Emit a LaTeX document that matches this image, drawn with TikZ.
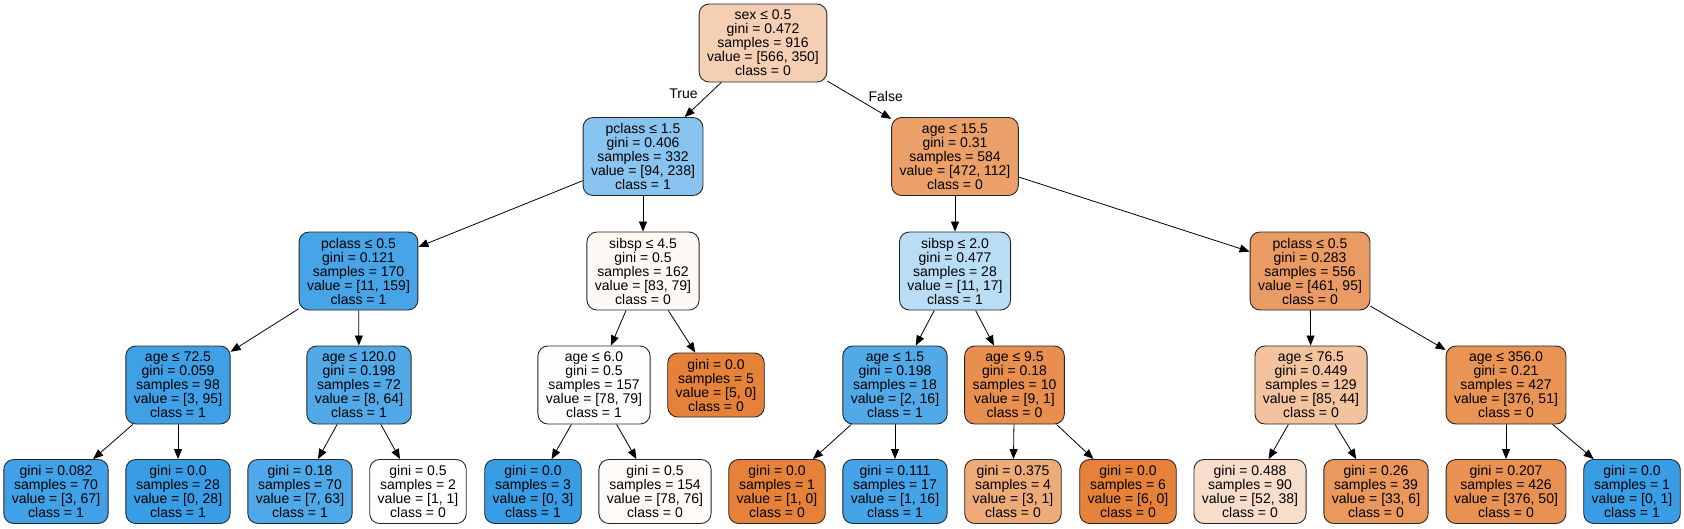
\documentclass[tikz,border=0pt]{standalone}
\usepackage{fontspec}
\setmainfont{Liberation Sans}
\usetikzlibrary{arrows.meta}
\definecolor{zeroc}{HTML}{E58139}
\definecolor{onec}{HTML}{399DE5}
\tikzset{
  box/.style={draw=black!85, line width=0.9pt, rounded corners=10pt, align=center,
    inner xsep=8pt, inner ysep=0pt, font=\fontsize{14}{14}\selectfont},
  split/.style={box, minimum height=78pt},
  leaf/.style={box, minimum height=64pt},
  edge/.style={-{Triangle[length=10pt,width=8pt]}, line width=0.8pt},
  lbl/.style={font=\fontsize{14}{14}\selectfont, inner sep=0pt}
}
\begin{document}
\begin{tikzpicture}[x=1pt, y=-1pt]
        \useasboundingbox (0,0) rectangle (1684,528);

        % Wurzel und erste Ebene
        \node[split, fill=zeroc!38] (root) at (763,43) {sex ≤ 0.5\\gini = 0.472\\samples = 916\\value = [566, 350]\\class = 0};
        \node[split, fill=onec!60] (l) at (643,156.5) {pclass ≤ 1.5\\gini = 0.406\\samples = 332\\value = [94, 238]\\class = 1};
        \node[split, fill=zeroc!76] (r) at (955,156.5) {age ≤ 15.5\\gini = 0.31\\samples = 584\\value = [472, 112]\\class = 0};

        % zweite Ebene
        \node[split, fill=onec!93] (ll) at (358.5,271) {pclass ≤ 0.5\\gini = 0.121\\samples = 170\\value = [11, 159]\\class = 1};
        \node[split, fill=zeroc!5] (lr) at (643,271) {sibsp ≤ 4.5\\gini = 0.5\\samples = 162\\value = [83, 79]\\class = 0};
        \node[split, fill=onec!35] (rl) at (955,271) {sibsp ≤ 2.0\\gini = 0.477\\samples = 28\\value = [11, 17]\\class = 1};
        \node[split, fill=zeroc!79] (rr) at (1310,271) {pclass ≤ 0.5\\gini = 0.283\\samples = 556\\value = [461, 95]\\class = 0};

        % dritte Ebene
        \node[split, fill=onec!97] (lll) at (178,385) {age ≤ 72.5\\gini = 0.059\\samples = 98\\value = [3, 95]\\class = 1};
        \node[split, fill=onec!88] (llr) at (359,385) {age ≤ 120.0\\gini = 0.198\\samples = 72\\value = [8, 64]\\class = 1};
        \node[split, fill=onec!1] (lrl) at (594,385) {age ≤ 6.0\\gini = 0.5\\samples = 157\\value = [78, 79]\\class = 1};
        \node[leaf, fill=zeroc] (lrr) at (716,385) {gini = 0.0\\samples = 5\\value = [5, 0]\\class = 0};
        \node[split, fill=onec!88] (rll) at (895,385) {age ≤ 1.5\\gini = 0.198\\samples = 18\\value = [2, 16]\\class = 1};
        \node[split, fill=zeroc!89] (rlr) at (1014.5,385) {age ≤ 9.5\\gini = 0.18\\samples = 10\\value = [9, 1]\\class = 0};
        \node[split, fill=zeroc!48] (rrl) at (1311,385) {age ≤ 76.5\\gini = 0.449\\samples = 129\\value = [85, 44]\\class = 0};
        \node[split, fill=zeroc!86] (rrr) at (1506,385) {age ≤ 356.0\\gini = 0.21\\samples = 427\\value = [376, 51]\\class = 0};

        % Blaetter
        \node[leaf, fill=onec!96] (llll) at (56,491.5) {gini = 0.082\\samples = 70\\value = [3, 67]\\class = 1};
        \node[leaf, fill=onec] (lllr) at (178,491.5) {gini = 0.0\\samples = 28\\value = [0, 28]\\class = 1};
        \node[leaf, fill=onec!89] (llrl) at (300,491.5) {gini = 0.18\\samples = 70\\value = [7, 63]\\class = 1};
        \node[leaf, fill=white] (llrr) at (418,491.5) {gini = 0.5\\samples = 2\\value = [1, 1]\\class = 0};
        \node[leaf, fill=onec] (lrll) at (533,491.5) {gini = 0.0\\samples = 3\\value = [0, 3]\\class = 1};
        \node[leaf, fill=zeroc!3] (lrlr) at (655,491.5) {gini = 0.5\\samples = 154\\value = [78, 76]\\class = 0};
        \node[leaf, fill=zeroc] (rlll) at (777,491.5) {gini = 0.0\\samples = 1\\value = [1, 0]\\class = 0};
        \node[leaf, fill=onec!94] (rllr) at (895,491.5) {gini = 0.111\\samples = 17\\value = [1, 16]\\class = 1};
        \node[leaf, fill=zeroc!67] (rlrl) at (1013,491.5) {gini = 0.375\\samples = 4\\value = [3, 1]\\class = 0};
        \node[leaf, fill=zeroc] (rlrr) at (1128,491.5) {gini = 0.0\\samples = 6\\value = [6, 0]\\class = 0};
        \node[leaf, fill=zeroc!27] (rrll) at (1250,491.5) {gini = 0.488\\samples = 90\\value = [52, 38]\\class = 0};
        \node[leaf, fill=zeroc!82] (rrlr) at (1376,491.5) {gini = 0.26\\samples = 39\\value = [33, 6]\\class = 0};
        \node[leaf, fill=zeroc!87] (rrrl) at (1506,491.5) {gini = 0.207\\samples = 426\\value = [376, 50]\\class = 0};
        \node[leaf, fill=onec] (rrrr) at (1632,491.5) {gini = 0.0\\samples = 1\\value = [0, 1]\\class = 1};

        % Kanten
        \draw[edge] (root) -- node[lbl, xshift=-19.5pt, yshift=6.5pt] {True} (l);
        \draw[edge] (root) -- node[lbl, xshift=26.5pt, yshift=3.5pt] {False} (r);
        \foreach \a/\b in {l/ll, l/lr, r/rl, r/rr, ll/lll, ll/llr, lr/lrl, lr/lrr,
            rl/rll, rl/rlr, rr/rrl, rr/rrr, lll/llll, lll/lllr, llr/llrl, llr/llrr,
            lrl/lrll, lrl/lrlr, rll/rlll, rll/rllr, rlr/rlrl, rlr/rlrr,
            rrl/rrll, rrl/rrlr, rrr/rrrl, rrr/rrrr}
        {
        \draw[edge] (\a) -- (\b);
        }
    \end{tikzpicture}
\end{document}
